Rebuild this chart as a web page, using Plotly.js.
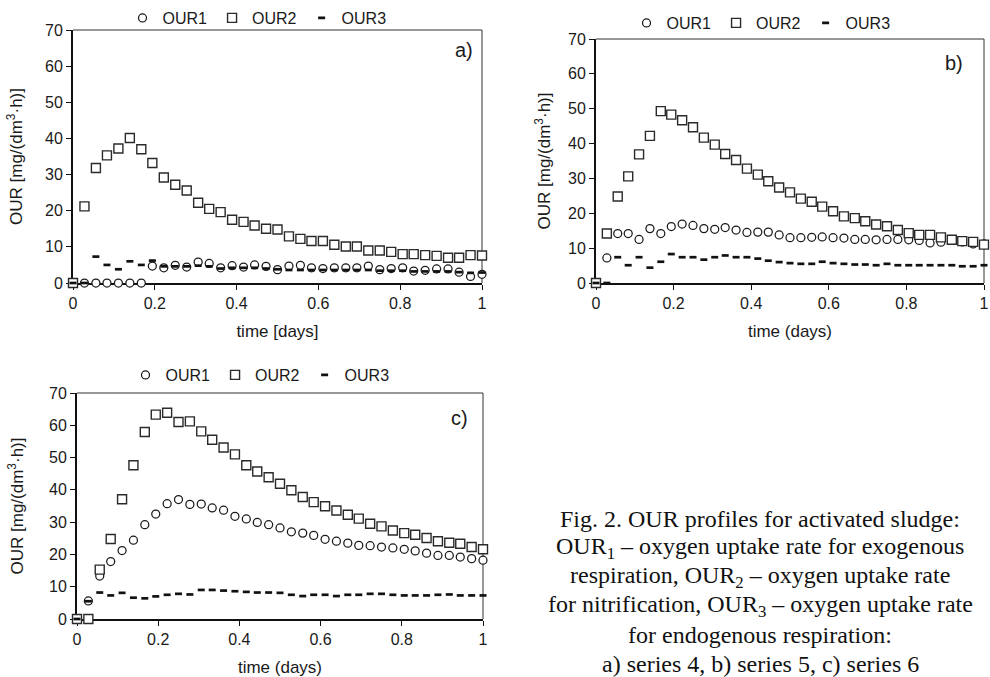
<!DOCTYPE html>
<html>
<head>
<meta charset="utf-8">
<script src="https://cdn.plot.ly/plotly-3.0.1.min.js"></script>
<style>
  html, body { margin: 0; padding: 0; background: #fff; }
  #chart { width: 990px; height: 677px; }
</style>
</head>
<body>
<div id="chart"></div>
<script>
// time axis (days)
const time = [0, 0.028, 0.056, 0.083, 0.111, 0.139, 0.167, 0.194, 0.222, 0.25, 0.278, 0.306, 0.333,
  0.361, 0.389, 0.417, 0.444, 0.472, 0.5, 0.528, 0.556, 0.583, 0.611, 0.639, 0.667, 0.694, 0.722,
  0.75, 0.778, 0.806, 0.833, 0.861, 0.889, 0.917, 0.944, 0.972, 1];

// panel a) series 4
const a_our1 = [0, 0, 0, 0, 0, 0, 0, 4.7, 4.2, 4.9, 4.4, 5.8, 5.4, 4.2, 4.8, 4.4, 5.0, 4.6, 3.7, 4.7,
  4.9, 4.2, 4.0, 4.2, 4.2, 4.2, 4.7, 3.7, 4.0, 4.2, 3.3, 3.5, 3.9, 3.9, 3.0, 1.8, 2.4];
const a_our2 = [0, 21.2, 31.8, 35.3, 37.2, 40.1, 37.0, 33.2, 29.2, 27.2, 25.6, 22.2, 20.5, 19.6, 17.5,
  16.9, 15.9, 15.0, 14.8, 12.9, 12.2, 11.6, 11.6, 10.6, 10.1, 10.1, 9.0, 9.0, 8.6, 8.0, 8.0, 7.7, 7.5,
  7.0, 7.0, 7.7, 7.6];
const a_our3 = [0, 0, 7.3, 5.0, 3.8, 6.0, 5.0, 6.2, 4.6, 4.6, 4.6, 4.8, 4.6, 4.0, 4.2, 4.2, 4.2, 4.0,
  3.8, 3.6, 3.6, 3.6, 3.6, 3.6, 3.6, 3.6, 3.6, 3.4, 3.4, 3.4, 3.2, 3.2, 3.2, 3.2, 3.0, 2.8, 2.9];

// panel b) series 5
const b_our1 = [0, 7.2, 14.2, 14.2, 12.5, 15.6, 14.2, 16.2, 16.9, 16.5, 15.6, 15.4, 15.9, 15.2, 14.5,
  14.6, 14.6, 13.8, 13.0, 13.0, 13.1, 13.2, 13.0, 12.9, 12.5, 12.5, 12.4, 12.5, 12.5, 12.4, 12.2, 11.5,
  11.7, 12.2, 11.8, 11.2, 11.2];
const b_our2 = [0, 14.2, 24.8, 30.6, 36.9, 42.2, 49.3, 48.3, 46.7, 44.7, 41.7, 39.7, 37.0, 35.3, 32.8,
  31.1, 29.2, 27.4, 26.0, 24.2, 23.3, 21.9, 20.6, 19.1, 18.6, 17.7, 16.8, 16.3, 15.2, 14.3, 13.8, 13.8,
  13.1, 12.4, 12.0, 11.8, 11.0];
const b_our3 = [0, 0, 7.4, 5.1, 7.4, 4.4, 6.1, 8.3, 7.4, 7.4, 6.7, 7.4, 7.9, 7.4, 7.4, 7.0, 6.4, 6.0,
  5.7, 5.5, 5.5, 6.1, 5.7, 5.5, 5.3, 5.3, 5.1, 5.5, 5.1, 5.1, 5.1, 5.1, 5.1, 5.1, 4.8, 4.8, 5.1];

// panel c) series 6
const c_our1 = [0, 5.6, 13.3, 17.8, 21.2, 24.4, 29.2, 32.5, 35.7, 37.0, 35.5, 35.6, 34.4, 33.7, 31.8,
  31.0, 29.9, 29.2, 28.2, 27.0, 26.6, 25.9, 24.7, 24.1, 23.5, 22.8, 22.7, 22.3, 22.0, 21.6, 21.1, 20.4,
  19.7, 19.7, 19.2, 18.7, 18.2];
const c_our2 = [0, 0, 15.3, 24.8, 37.1, 47.6, 57.9, 63.3, 63.9, 61.0, 61.2, 58.1, 55.5, 53.1, 51.0,
  47.6, 45.7, 43.9, 41.9, 39.9, 37.8, 36.2, 34.9, 33.6, 32.3, 31.1, 29.5, 28.7, 27.4, 26.6, 26.1, 25.1,
  24.1, 23.6, 23.3, 22.3, 21.6];
const c_our3 = [0, 5.5, 8.2, 7.3, 8.1, 6.6, 6.4, 7.0, 7.5, 7.8, 7.6, 9.0, 9.0, 8.8, 8.6, 8.4, 8.2, 8.2,
  8.1, 7.5, 7.1, 7.5, 7.5, 7.1, 7.5, 7.5, 7.8, 7.8, 7.5, 7.3, 7.3, 7.3, 7.5, 7.6, 7.3, 7.3, 7.3];

const seriesNames = ['OUR1', 'OUR2', 'OUR3'];
const panelLabels = ['a)', 'b)', 'c)'];
const xTitles = ['time [days]', 'time (days)', 'time (days)'];
const yTitle = 'OUR [mg/(dm<sup>3</sup>·h)]';
const captionLines = [
  'Fig. 2. OUR profiles for activated sludge:',
  'OUR<sub>1</sub> – oxygen uptake rate for exogenous',
  'respiration, OUR<sub>2</sub> – oxygen uptake rate',
  'for nitrification, OUR<sub>3</sub> – oxygen uptake rate',
  'for endogenous respiration:',
  'a) series 4, b) series 5, c) series 6'
];

const panels = [
  {data: [a_our1, a_our2, a_our3], xa: 'x', ya: 'y', leg: 'legend'},
  {data: [b_our1, b_our2, b_our3], xa: 'x2', ya: 'y2', leg: 'legend2'},
  {data: [c_our1, c_our2, c_our3], xa: 'x3', ya: 'y3', leg: 'legend3'}
];

const markerStyles = [
  {symbol: 'circle', size: 8, color: '#ffffff', line: {color: '#1a1a1a', width: 1.25}},
  {symbol: 'square', size: 9, color: '#ffffff', line: {color: '#2a2a2a', width: 1.4}},
  {symbol: 'line-ew', size: 5, color: '#111111', line: {color: '#111111', width: 2.7}}
];

const traces = [];
panels.forEach(p => {
  p.data.forEach((ys, k) => {
    traces.push({
      type: 'scatter', mode: 'markers', x: time, y: ys,
      name: seriesNames[k], xaxis: p.xa, yaxis: p.ya, legend: p.leg,
      marker: markerStyles[k], cliponaxis: false, hoverinfo: 'x+y'
    });
  });
});

const W = 990, H = 677;
const fx = px => px / W;
const fy = py => 1 - py / H;

const FONT = 'Liberation Sans, Arial, sans-serif';
function xAxis(l, r, title, anchor) {
  return {
    domain: [fx(l), fx(r)], anchor: anchor, range: [0, 1], tick0: 0, dtick: 0.2,
    ticks: 'outside', ticklen: 5, tickwidth: 1, tickcolor: '#111',
    showline: true, linewidth: 2, linecolor: '#111', showgrid: false, zeroline: false,
    layer: 'below traces', tickfont: {size: 16, color: '#1a1a1a'},
    title: {text: title, font: {size: 17, color: '#1a1a1a'}, standoff: 14}
  };
}
function yAxis(t, b, anchor, standoff) {
  return {
    domain: [fy(b), fy(t)], anchor: anchor, range: [0, 70], tick0: 0, dtick: 10,
    ticks: 'outside', ticklen: 5, tickwidth: 1, tickcolor: '#111',
    showline: true, linewidth: 2, linecolor: '#111', showgrid: false, zeroline: false,
    layer: 'below traces', tickfont: {size: 16, color: '#1a1a1a'},
    title: {text: yTitle, font: {size: 17, color: '#1a1a1a'}, standoff: standoff}
  };
}
function legend(cx, cy) {
  return {
    orientation: 'h', x: fx(cx), y: fy(cy), xanchor: 'center', yanchor: 'middle',
    font: {size: 16, color: '#1a1a1a'}, itemwidth: 30, bgcolor: 'rgba(0,0,0,0)',
    borderwidth: 0, itemclick: false, itemdoubleclick: false
  };
}
function frame(xr, yr) {
  return [
    {type: 'line', xref: xr + ' domain', yref: yr + ' domain', x0: 0, x1: 1, y0: 1, y1: 1,
      line: {color: '#333', width: 1}, layer: 'below'},
    {type: 'line', xref: xr + ' domain', yref: yr + ' domain', x0: 1, x1: 1, y0: 0, y1: 1,
      line: {color: '#333', width: 1}, layer: 'below'}
  ];
}

const annotations = [
  {text: panelLabels[0], xref: 'x', yref: 'y', x: 0.955, y: 64.5, showarrow: false,
    font: {size: 20, color: '#1a1a1a'}},
  {text: panelLabels[1], xref: 'x2', yref: 'y2', x: 0.923, y: 63.1, showarrow: false,
    font: {size: 20, color: '#1a1a1a'}},
  {text: panelLabels[2], xref: 'x3', yref: 'y3', x: 0.941, y: 62.3, showarrow: false,
    font: {size: 20, color: '#1a1a1a'}}
];
const capY = [519, 548, 577, 606, 635, 664];
captionLines.forEach((t, i) => {
  annotations.push({
    text: t, xref: 'paper', yref: 'paper', x: fx(760), y: fy(capY[i]),
    xanchor: 'center', yanchor: 'middle', showarrow: false, align: 'center',
    font: {family: 'Liberation Serif, Times New Roman, serif', size: 24, color: '#111'}
  });
});

const layout = {
  width: W, height: H, margin: {l: 0, r: 0, t: 0, b: 0},
  paper_bgcolor: '#fff', plot_bgcolor: '#fff',
  font: {family: FONT, color: '#1a1a1a'},
  xaxis: xAxis(73, 482, xTitles[0], 'y'),
  yaxis: yAxis(30, 283, 'x', 18),
  xaxis2: xAxis(596, 984, xTitles[1], 'y2'),
  yaxis2: yAxis(39, 283, 'x2', 13),
  xaxis3: xAxis(77, 483, xTitles[2], 'y3'),
  yaxis3: yAxis(393, 619, 'x3', 21),
  legend: legend(257, 18),
  legend2: legend(761, 23),
  legend3: legend(260, 375),
  shapes: [].concat(frame('x', 'y'), frame('x2', 'y2'), frame('x3', 'y3')),
  annotations: annotations,
  showlegend: true
};

Plotly.newPlot('chart', traces, layout, {displayModeBar: false, staticPlot: true});
</script>
</body>
</html>
